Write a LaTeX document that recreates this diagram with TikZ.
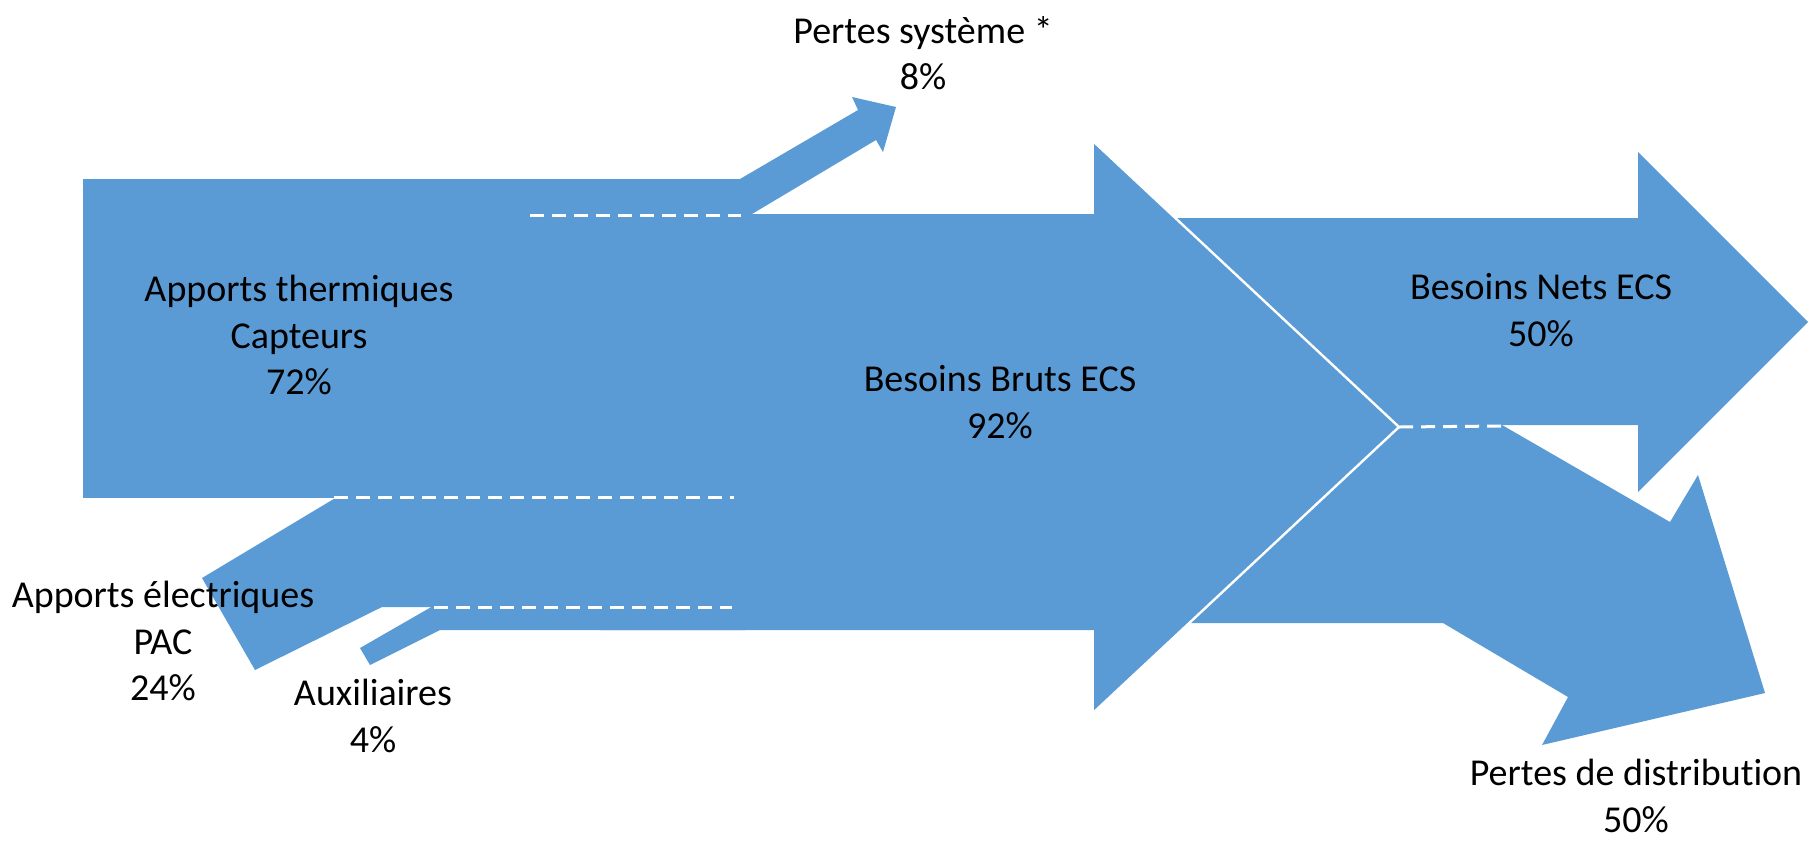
\documentclass[tikz,border=0pt]{standalone}
\usepackage{fontspec}
\setmainfont{Carlito}[Ligatures=NoCommon]
\definecolor{flowblue}{HTML}{5B9BD5}
\begin{document}
\begin{tikzpicture}[x={(0.5pt,0pt)},y={(0pt,-0.5pt)},
  flow/.style={fill=flowblue, draw=none},
  sep/.style={draw=white, line width=1.5pt, dash pattern=on 7pt off 4pt},
  headline/.style={draw=white, line width=1.2pt, line join=miter},
  lbl/.style={inner sep=0pt, align=center, text=black, font=\fontsize{19}{23.2}\selectfont}]
\useasboundingbox (0,0) rectangle (1808,842);

% --- key points
\coordinate (split) at (1399,427);
\coordinate (hTop) at (1094,142);
\coordinate (hBot) at (1094,712);

% --- Besoins Nets ECS arrow
\fill[flow] (1150,218) -- (1638,218) -- (1638,152) -- (1808,322) -- (1638,492) -- (1638,425) -- (1150,425) -- cycle;
% --- Pertes de distribution arrow
\fill[flow] (1150,425) -- (1502,425) -- (1670,522) -- (1698,475) -- (1765,693) -- (1542,745) -- (1568,697) -- (1443,623) -- (1150,623) -- cycle;
% --- Besoins Bruts ECS (main) arrow
\fill[flow] (600,214) -- (1094,214) -- (hTop) -- (split) -- (hBot) -- (1094,630) -- (600,630) -- cycle;
\draw[headline] (hTop) -- (split) -- (hBot);
% --- Apports thermiques
\fill[flow] (83,179) rectangle (745,498);
% --- Pertes systeme arrow
\fill[flow] (735,179) -- (740,179) -- (858,110) -- (852,97) -- (896,107) -- (883,152) -- (876,140) -- (752,214) -- (735,214) -- cycle;
% --- Apports electriques PAC
\fill[flow] (337,497) -- (745,497) -- (745,607) -- (382,607) -- (255,670) -- (202,578) -- cycle;
% --- Auxiliaires
\fill[flow] (433,606) -- (745,606) -- (745,630) -- (440,630) -- (370,665) -- (360,648) -- cycle;

% --- separators
\coordinate (s1a) at (530,215); \coordinate (s1b) at (741,215);
\coordinate (s2a) at (334,497); \coordinate (s2b) at (734,497);
\coordinate (s3a) at (434,607); \coordinate (s3b) at (732,607);
\coordinate (s4b) at (1502,426);
\draw[sep] (s1a) -- (s1b);
\draw[sep] (s2a) -- (s2b);
\draw[sep] (s3a) -- (s3b);
\draw[sep] (split) -- (s4b);

% --- labels
\node[lbl] (therm) at (299,335) {Apports thermiques\\Capteurs\\72\%};
\node[lbl] (bruts) at (1000,402) {Besoins Bruts ECS\\92\%};
\node[lbl] (nets) at (1541,310) {Besoins Nets ECS\\50\%};
\node[lbl] (psys) at (923,53) {Pertes système *\\8\%};
\node[lbl] (pac) at (163,641) {Apports électriques\\PAC\\24\%};
\node[lbl] (aux) at (373,716) {Auxiliaires\\4\%};
\node[lbl] (dist) at (1636,796) {Pertes de distribution\\50\%};
\end{tikzpicture}
\end{document}
